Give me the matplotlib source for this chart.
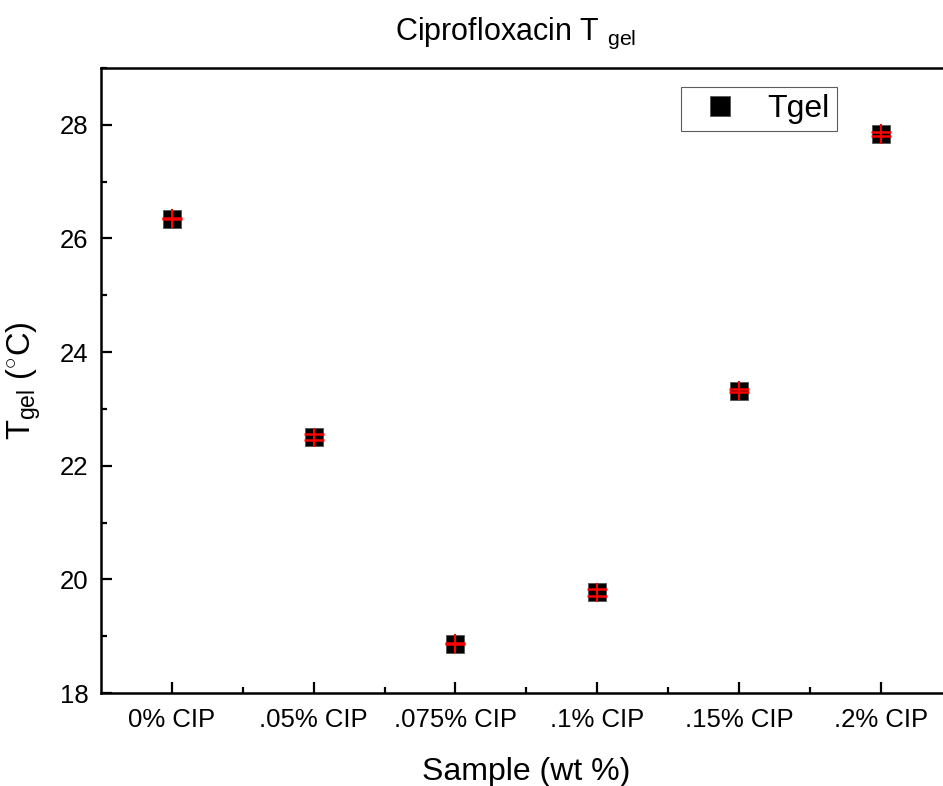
import matplotlib
matplotlib.use("Agg")
import matplotlib.pyplot as plt
import numpy as np

plt.rcParams["font.family"] = ["Liberation Sans", "DejaVu Sans"]
plt.rcParams["mathtext.fontset"] = "custom"
plt.rcParams["mathtext.rm"] = "Liberation Sans"
plt.rcParams["mathtext.it"] = "Liberation Sans:italic"

# data
samples = ["0% CIP", ".05% CIP", ".075% CIP", ".1% CIP", ".15% CIP", ".2% CIP"]
tgel = [26.35, 22.50, 18.87, 19.77, 23.32, 27.84]
tgel_sd = [0.01, 0.05, 0.01, 0.06, 0.025, 0.04]      # capped error bars
tgel_range = [0.17, 0.17, 0.17, 0.17, 0.17, 0.17]    # longer uncapped line

x = np.arange(len(samples))

fig = plt.figure(figsize=(9.43, 7.86), dpi=100)
ax = fig.add_axes([0.107, 0.1183, 0.9024, 0.7952])

ax.plot(x, tgel, "s", color="black", mec="#555555", mew=0.6, ms=13.5,
        label="Tgel", zorder=2)
ax.errorbar(x, tgel, yerr=tgel_range, fmt="none", ecolor="red",
            elinewidth=1.5, capsize=0, zorder=3)
ax.errorbar(x, tgel, yerr=tgel_sd, fmt="none", ecolor="red",
            elinewidth=0, capsize=7, capthick=1.8, zorder=3)

ax.set_xlim(-0.5, len(samples) - 0.5)
ax.set_ylim(18, 29)
ax.set_xticks(x)
ax.set_xticklabels(samples)
ax.set_xticks(x[:-1] + 0.5, minor=True)
ax.set_yticks(np.arange(18, 29, 2))
ax.set_yticks(np.arange(19, 30, 2), minor=True)

for s in ["left", "bottom", "top"]:
    ax.spines[s].set_linewidth(1.8)
ax.spines["right"].set_visible(False)
ax.tick_params(which="major", direction="in", length=8, width=1.6,
               labelsize=18.5, pad=11)
ax.tick_params(axis="y", which="major", pad=9)
ax.tick_params(which="minor", direction="in", length=4, width=1.6)
ax.tick_params(axis="x", which="both", top=False)

ax.set_xlabel("Sample (wt %)", fontsize=23, labelpad=18)
ax.set_ylabel("T$_{\\rm gel}$ ($^{\\circ}$C)", fontsize=23.5, labelpad=12)
ax.set_title("Ciprofloxacin T $_{\\rm gel}$", fontsize=22, pad=20, x=0.487)

leg = ax.legend(loc="upper right", bbox_to_anchor=(0.865, 0.97), fontsize=23,
                frameon=True, fancybox=False, edgecolor="#333333",
                handletextpad=0.5, borderpad=0.22, borderaxespad=0,
                markerscale=1.1, handlelength=2.0)
leg.get_frame().set_linewidth(0.8)

fig.savefig("out.png", dpi=100)
